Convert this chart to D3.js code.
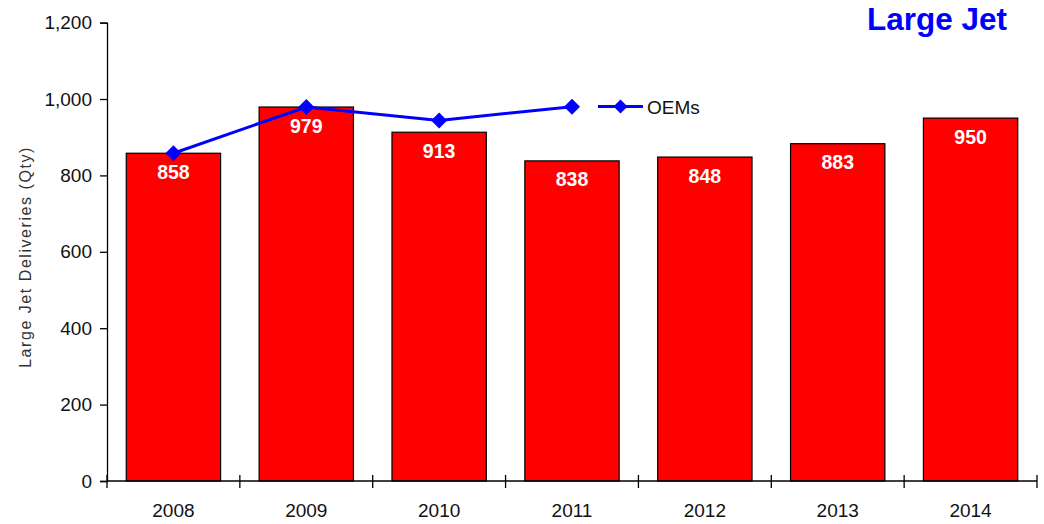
<!DOCTYPE html>
<html>
<head>
<meta charset="utf-8">
<script src="https://cdn.jsdelivr.net/npm/d3@7"></script>
<style>
  html, body { margin: 0; padding: 0; background: #fff; }
  svg { display: block; font-family: "Liberation Sans", Arial, sans-serif; }
</style>
</head>
<body>
<svg id="chart" width="1044" height="524"></svg>
<script>
// Yearly large jet deliveries (bars) and OEM forecast (line)
const years = ["2008", "2009", "2010", "2011", "2012", "2013", "2014"];
const deliveries = [858, 979, 913, 838, 848, 883, 950];
const oemYears = ["2008", "2009", "2010", "2011"];
const oemValues = [858, 979, 944, 980];
const yTicks = [0, 200, 400, 600, 800, 1000, 1200];

const svg = d3.select("#chart");
const plotLeft = 107, plotRight = 1037, plotTop = 22.6, plotBottom = 481;

const x = d3.scaleBand().domain(years).range([plotLeft, plotRight]).paddingInner(0.29).paddingOuter(0.145);
const y = d3.scaleLinear().domain([0, 1200]).range([plotBottom, plotTop]);

// Bars
svg.append("g").selectAll("rect").data(years).join("rect")
  .attr("x", d => x(d))
  .attr("y", (d, i) => y(deliveries[i]))
  .attr("width", x.bandwidth())
  .attr("height", (d, i) => y(0) - y(deliveries[i]))
  .attr("fill", "#ff0000")
  .attr("stroke", "#000")
  .attr("stroke-width", 1.2);

// Value labels inside bars
svg.append("g").selectAll("text").data(years).join("text")
  .attr("x", d => x(d) + x.bandwidth() / 2)
  .attr("y", (d, i) => y(deliveries[i]) + 25.5)
  .attr("text-anchor", "middle")
  .attr("fill", "#fff")
  .attr("font-weight", "bold")
  .attr("font-size", 19.5)
  .text((d, i) => deliveries[i]);

// Y axis
const yAxis = svg.append("g")
  .attr("transform", `translate(${plotLeft},0)`)
  .call(d3.axisLeft(y).tickValues(yTicks).tickFormat(d3.format(",")).tickSize(7).tickPadding(8));
yAxis.select(".domain").attr("stroke", "#000").attr("stroke-width", 1.3);
yAxis.selectAll(".tick line").attr("stroke", "#000").attr("stroke-width", 1.3);
yAxis.selectAll(".tick text").attr("font-size", 19).attr("fill", "#111")
  .attr("font-family", "Liberation Sans, Arial, sans-serif");

// X axis with boundary ticks between categories
const xg = svg.append("g");
xg.append("line")
  .attr("x1", plotLeft).attr("x2", plotRight)
  .attr("y1", plotBottom).attr("y2", plotBottom)
  .attr("stroke", "#000").attr("stroke-width", 1.3);
const step = x.step();
const bounds = d3.range(years.length + 1).map(i => plotLeft + i * step);
xg.selectAll("line.b").data(bounds).join("line")
  .attr("class", "b")
  .attr("x1", d => d).attr("x2", d => d)
  .attr("y1", plotBottom - 6).attr("y2", plotBottom + 7)
  .attr("stroke", "#000").attr("stroke-width", 1.3);
xg.selectAll("text").data(years).join("text")
  .attr("x", d => x(d) + x.bandwidth() / 2)
  .attr("y", plotBottom + 36)
  .attr("text-anchor", "middle")
  .attr("font-size", 19)
  .attr("fill", "#111")
  .text(d => d);

// Y axis title
svg.append("text")
  .attr("transform", `translate(31,257) rotate(-90)`)
  .attr("text-anchor", "middle")
  .attr("font-size", 16)
  .attr("letter-spacing", 1.55)
  .attr("fill", "#333")
  .text("Large Jet Deliveries (Qty)");

// OEM line
const cx = d => x(d) + x.bandwidth() / 2;
const line = d3.line().x((d, i) => cx(oemYears[i])).y(d => y(d));
svg.append("path")
  .datum(oemValues)
  .attr("d", line)
  .attr("fill", "none")
  .attr("stroke", "#0000ff")
  .attr("stroke-width", 3);

// Square diamond marker
const diamondPath = "M0,-8L8,0L0,8L-8,0Z";
svg.append("g").selectAll("path").data(oemValues).join("path")
  .attr("transform", (d, i) => `translate(${cx(oemYears[i])},${y(d)})`)
  .attr("d", diamondPath)
  .attr("fill", "#0000ff");

// Legend
const lg = svg.append("g").attr("transform", "translate(598,106.5)");
lg.append("line").attr("x1", 0).attr("x2", 45).attr("y1", 0).attr("y2", 0)
  .attr("stroke", "#0000ff").attr("stroke-width", 3);
lg.append("path").attr("transform", "translate(22.5,0)").attr("d", "M0,-7L7,0L0,7L-7,0Z").attr("fill", "#0000ff");
lg.append("text").attr("x", 49).attr("y", 7).attr("font-size", 19).attr("fill", "#111").text("OEMs");

// Title
svg.append("text")
  .attr("x", 1007).attr("y", 29.5)
  .attr("text-anchor", "end")
  .attr("font-size", 31.5)
  .attr("font-weight", "bold")
  .attr("fill", "#0000ff")
  .text("Large Jet");
</script>
</body>
</html>
